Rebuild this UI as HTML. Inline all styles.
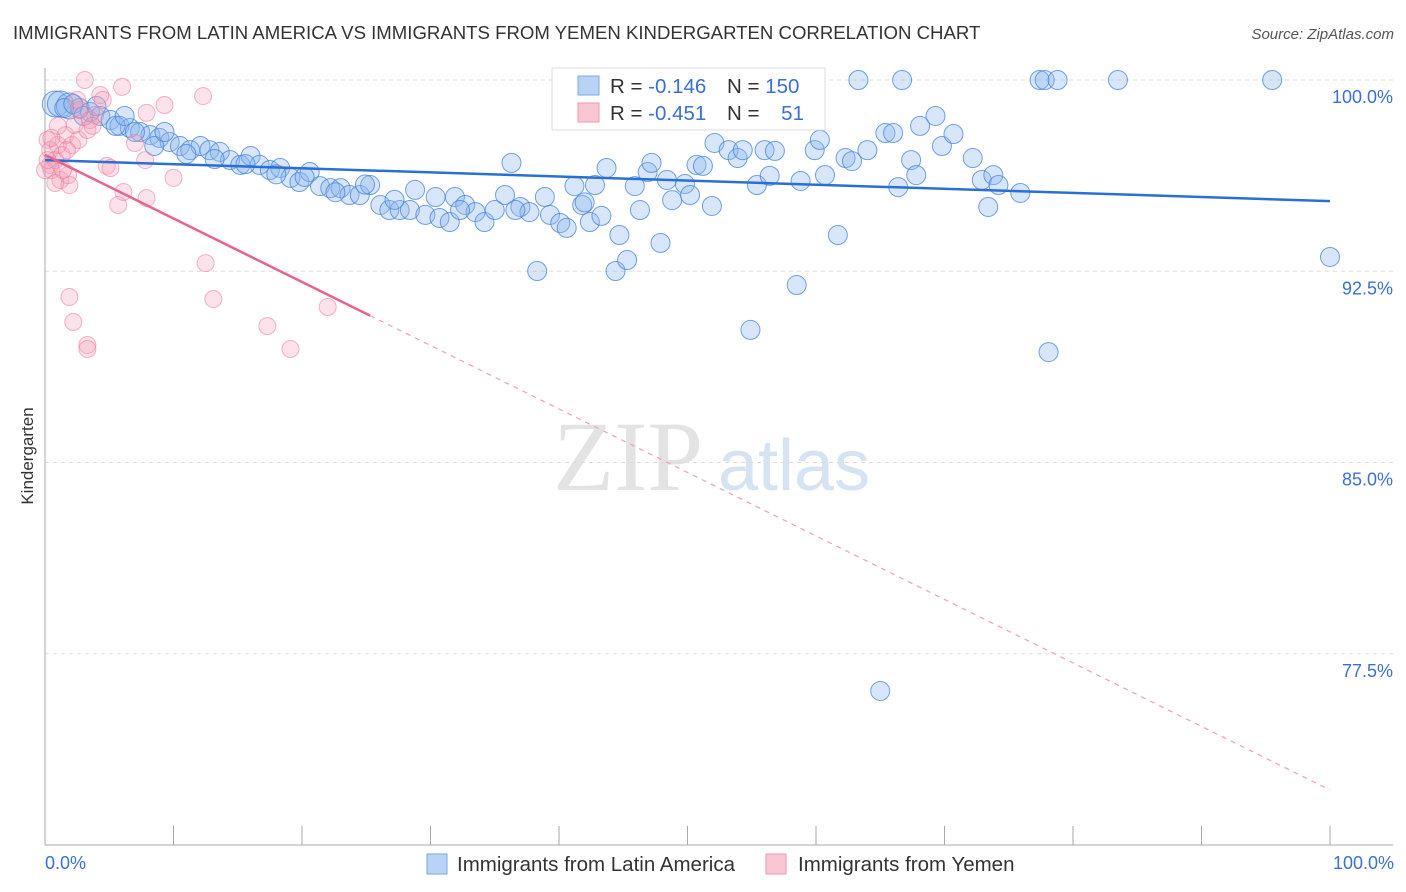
<!DOCTYPE html>
<html><head><meta charset="utf-8"><style>
body{margin:0;background:#fff;font-family:"Liberation Sans",sans-serif}
svg{display:block}
</style></head><body>
<svg id="chart" width="1406" height="892" xmlns="http://www.w3.org/2000/svg">
<text x="13" y="39" font-size="18.6" fill="#333">IMMIGRANTS FROM LATIN AMERICA VS IMMIGRANTS FROM YEMEN KINDERGARTEN CORRELATION CHART</text>
<text x="1394" y="39" font-size="15" fill="#555" font-style="italic" text-anchor="end">Source: ZipAtlas.com</text>
<g>
<text x="553" y="490" font-size="100" font-family="Liberation Serif,serif" fill="#e3e3e3">ZIP</text>
<text x="718" y="490" font-size="72" fill="#d6e3f3">atlas</text>
</g>
<g id="grid"></g>
<g id="marks"></g>
<text transform="translate(33,456) rotate(-90)" font-size="17" fill="#333" text-anchor="middle">Kindergarten</text>
<text x="45" y="869" font-size="18" fill="#3b6fd4">0.0%</text>
<text x="1394" y="869" font-size="18" fill="#3b6fd4" text-anchor="end">100.0%</text>
<g>
<rect x="552" y="68" width="273" height="62" fill="#fff" stroke="#ddd"/>
<rect x="578" y="76" width="21" height="19" fill="#b9d3f5" stroke="#7fa8e6"/>
<rect x="578" y="103" width="21" height="19" fill="#f9c6d4" stroke="#ee98b2"/>
<text x="610" y="93" font-size="20.5" fill="#333">R = <tspan fill="#3b6fd4">-0.146</tspan></text>
<text x="727" y="93" font-size="20.5" fill="#333">N = <tspan fill="#3b6fd4">150</tspan></text>
<text x="610" y="120" font-size="20.5" fill="#333">R = <tspan fill="#3b6fd4">-0.451</tspan></text>
<text x="727" y="120" font-size="20.5" fill="#333">N = <tspan fill="#3b6fd4" dx="16">51</tspan></text>
</g>
<g>
<rect x="427" y="854" width="20" height="20" fill="#b9d3f5" stroke="#7fa8e6"/>
<text x="457" y="871" font-size="20.5" fill="#333">Immigrants from Latin America</text>
<rect x="766" y="854" width="20" height="20" fill="#f9c6d4" stroke="#ee98b2"/>
<text x="798" y="871" font-size="20.5" fill="#333">Immigrants from Yemen</text>
</g>
</svg>
<script>
const yTicks=[100,92.5,85,77.5];
const yTickLabels=["100.0%","92.5%","85.0%","77.5%"];
const xTicks=[0,10,20,30,40,50,60,70,80,90,100];
const blueX=[0.8,1.2,1.9,2.7,3.5,4.3,5.1,5.8,6.6,7.4,8.2,8.9,9.7,10.5,11.3,12.1,12.8,13.6,14.4,15.2,16.0,16.7,17.5,18.3,19.1,19.8,20.6,21.4,22.2,23.0,23.7,24.5,25.3,26.1,26.8,27.6,28.4,28.8,29.6,30.4,30.7,31.5,31.9,32.7,33.5,34.2,35.0,35.8,36.3,37.0,37.7,38.3,38.9,39.3,40.1,40.6,41.2,41.8,42.4,42.8,43.3,43.7,44.4,44.7,45.3,45.9,46.3,46.9,47.2,47.9,48.4,48.8,49.3,49.8,50.2,50.7,51.2,51.9,52.1,53.2,53.5,53.9,54.3,54.9,55.4,56.0,56.4,56.8,58.5,58.8,59.2,59.9,60.3,60.7,61.7,62.3,62.8,63.3,64.0,65.0,65.4,66.0,66.4,66.7,67.4,67.8,68.1,69.3,69.8,70.7,72.2,72.9,73.4,73.8,74.2,75.9,77.4,77.8,78.1,78.8,83.5,95.5,100,1.5,2.2,3.0,4.0,5.5,6.2,7.0,8.5,9.3,11.0,13.2,15.6,18.0,20.2,22.6,24.9,27.2,32.3,36.6,42.0];
const blueY=[99.06,99.06,98.98,98.9,98.75,98.59,98.43,98.2,98.12,97.96,97.84,97.73,97.57,97.41,97.25,97.41,97.25,97.18,96.86,96.67,97.02,96.67,96.47,96.55,96.16,96.0,96.39,95.84,95.76,95.76,95.49,95.49,95.88,95.1,94.9,94.9,94.9,95.69,94.71,95.41,94.59,94.43,95.41,95.1,94.82,94.43,94.9,95.49,96.75,95.02,94.82,92.51,95.41,94.71,94.39,94.2,95.84,95.1,94.43,95.88,94.67,96.55,92.51,93.92,92.94,95.84,94.9,96.39,96.75,93.61,96.08,95.29,98.71,95.92,95.49,96.67,96.63,95.06,97.53,97.25,98.82,96.94,97.25,90.2,95.88,97.25,96.24,97.22,91.96,96.04,98.94,97.25,97.65,96.27,93.92,96.94,96.82,100,97.25,76.04,97.92,97.92,95.8,100,96.86,96.27,98.2,98.59,97.41,97.88,96.94,96.08,95.02,96.27,95.88,95.57,100,100,89.33,100,100,100,93.06,98.9,99.06,98.59,98.98,98.2,98.59,97.96,97.41,97.96,97.1,96.9,96.7,96.3,96.2,95.6,95.9,95.3,94.9,94.9,95.2];
const blueBig=[0,1,2];
const pinkX=[0.2,0.4,0.5,0.8,1.0,1.2,1.3,1.6,1.8,1.9,2.1,2.3,2.6,2.7,3.1,3.3,3.5,3.9,4.3,4.5,4.8,5.1,5.7,6.0,6.1,7.0,7.8,7.9,7.9,9.3,10.0,12.3,12.5,13.1,17.3,19.1,22.0,1.9,2.2,3.3,3.3,0.4,0.8,1.4,1.7,0,0.5,1.0,3.7,2.5,0.2];
const pinkY=[97.65,97.25,96.47,96.86,97.45,96.08,97.06,97.84,96.27,95.88,97.45,98.24,97.65,98.82,100,98.04,98.43,98.63,99.41,99.22,96.63,96.55,95.1,99.73,95.61,97.53,96.86,95.37,98.71,99.02,96.16,99.37,92.82,91.41,90.35,89.45,91.1,91.49,90.51,89.61,89.45,96.67,95.96,96.47,97.25,96.47,97.73,98.2,98.2,99.22,96.86];
const blueTrend=[96.86,95.25];
const pinkTrend=[97.06,72.16];
const pinkSolidEnd=25.3;

const NS="http://www.w3.org/2000/svg";
const X=v=>45+v*12.85;
const Y=v=>80+(100-v)*25.5;
function mk(tag,attrs,parent){const e=document.createElementNS(NS,tag);for(const k in attrs)e.setAttribute(k,attrs[k]);parent.appendChild(e);return e;}
const grid=document.getElementById('grid'),marks=document.getElementById('marks');
yTicks.forEach((t,i)=>{
  const l=mk('line',{x1:45,x2:1393,y1:Y(t),y2:Y(t),stroke:'#ddd','stroke-dasharray':'4,4'},grid);
  
  
  const tx=mk('text',{x:1393,y:Y(t)+23,'font-size':18,fill:'#3b6fd4','text-anchor':'end'},grid);
  tx.textContent=yTickLabels[i];
  
  
});
const ya=mk('line',{x1:45,x2:45,y1:68,y2:845,stroke:'#aaa'},grid);


const xa=mk('line',{x1:45,x2:1393,y1:845,y2:845,stroke:'#aaa'},grid);


xTicks.forEach(t=>{
  const l=mk('line',{x1:X(t),x2:X(t),y1:826,y2:845,stroke:'#aaa'},grid);
  
  
});
blueX.forEach((x,i)=>{
  const c=mk('circle',{cx:X(x),cy:Y(blueY[i]),r:blueBig.includes(i)?13:9.5,fill:'rgba(140,182,238,0.35)',stroke:'rgba(70,130,220,0.75)','stroke-width':1},marks);
  
  
});
pinkX.forEach((x,i)=>{
  const c=mk('circle',{cx:X(x),cy:Y(pinkY[i]),r:8.5,fill:'rgba(245,160,185,0.3)',stroke:'rgba(235,120,155,0.55)','stroke-width':1},marks);
  
  
});
const bt=mk('line',{x1:X(0),y1:Y(blueTrend[0]),x2:X(100),y2:Y(blueTrend[1]),stroke:'#2a6fd6','stroke-width':2.5},marks);


const pAt=x=>pinkTrend[0]+(pinkTrend[1]-pinkTrend[0])*x/100;
const pt=mk('line',{x1:X(0),y1:Y(pAt(0)),x2:X(pinkSolidEnd),y2:Y(pAt(pinkSolidEnd)),stroke:'#e8628e','stroke-width':2.5},marks);


const pd=mk('line',{x1:X(pinkSolidEnd),y1:Y(pAt(pinkSolidEnd)),x2:X(100),y2:Y(pAt(100)),stroke:'#f0a0b8','stroke-width':1.2,'stroke-dasharray':'5,5'},marks);


</script>
</body></html>
